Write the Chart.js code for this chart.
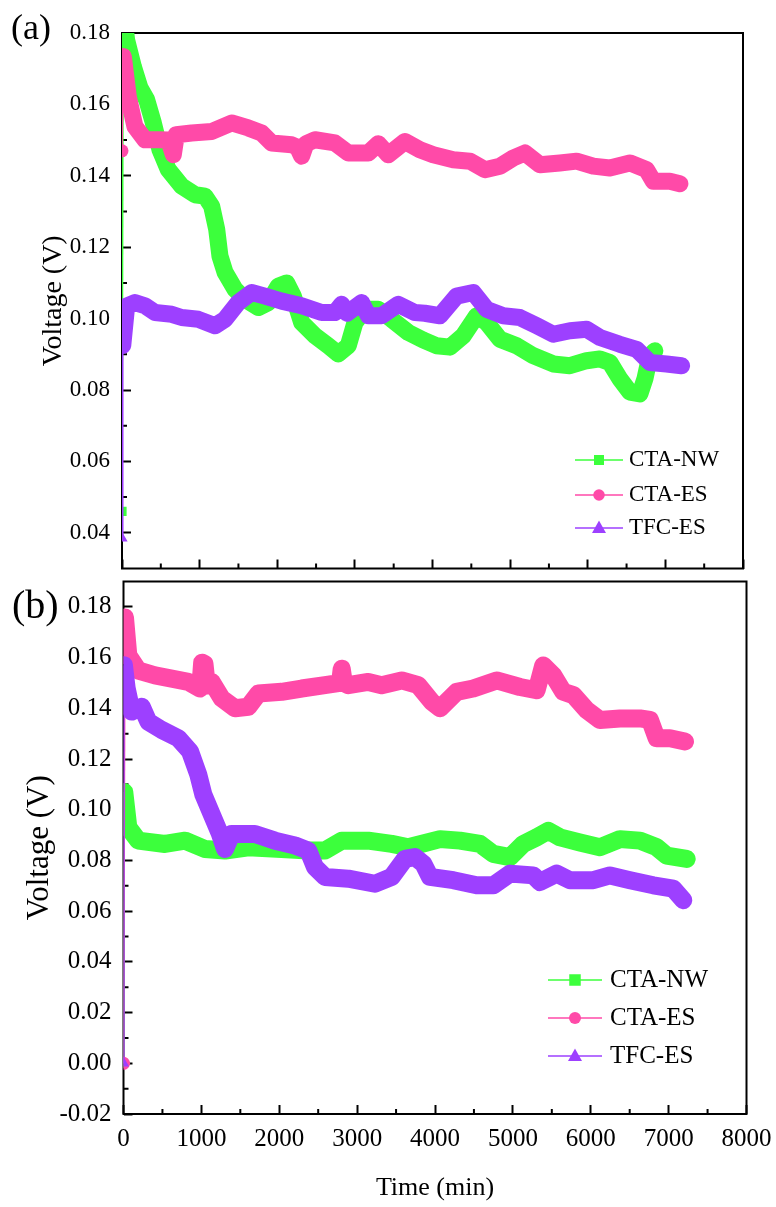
<!DOCTYPE html>
<html>
<head>
<meta charset="utf-8">
<script src="https://cdn.jsdelivr.net/npm/chart.js@4.4.1/dist/chart.umd.min.js"></script>
<style>
  html, body { margin: 0; padding: 0; background: #fff; }
  #wrap { position: relative; width: 776px; height: 1207px; overflow: hidden; }
  canvas { position: absolute; left: 0; }
  #chartA { top: 0; }
  #chartB { top: 575px; }
</style>
</head>
<body>
<div id="wrap">
  <canvas id="chartA" width="776" height="575"></canvas>
  <canvas id="chartB" width="776" height="632"></canvas>
</div>
<script>
// series names
const seriesLabels = ['CTA-NW', 'CTA-ES', 'TFC-ES'];

// panel (a) - time (min) / voltage (V); first value is the starting point
const timeA_NW = [0, 15, 60, 146, 232, 318, 404, 489, 597, 769, 940, 1069, 1155, 1220, 1262, 1327, 1455, 1584, 1756, 1885, 2013, 2121, 2207, 2314, 2486, 2657, 2786, 2915, 3001, 3130, 3301, 3473, 3688, 3880, 4053, 4225, 4396, 4568, 4697, 4869, 5084, 5298, 5556, 5770, 5985, 6157, 6285, 6414, 6543, 6672, 6736, 6801, 6865];
const voltA_NW = [0.046, 0.186, 0.178, 0.1706, 0.1646, 0.1613, 0.1548, 0.1473, 0.1417, 0.1371, 0.1347, 0.1343, 0.1315, 0.125, 0.1175, 0.113, 0.1082, 0.1054, 0.1031, 0.1045, 0.1091, 0.110, 0.1063, 0.0989, 0.0952, 0.0924, 0.0901, 0.0924, 0.0989, 0.1026, 0.1026, 0.0998, 0.0961, 0.094, 0.0924, 0.092, 0.0952, 0.1008, 0.0989, 0.0942, 0.0924, 0.0896, 0.0873, 0.0868, 0.0882, 0.0887, 0.0877, 0.0831, 0.0794, 0.0789, 0.0831, 0.0896, 0.091];

const timeA_ES = [0, 17, 81, 167, 296, 468, 600, 661, 700, 897, 1155, 1413, 1627, 1799, 1928, 2185, 2260, 2314, 2370, 2486, 2743, 2915, 3173, 3301, 3430, 3645, 3838, 4010, 4267, 4482, 4675, 4869, 5040, 5191, 5384, 5641, 5856, 6071, 6285, 6543, 6758, 6844, 7058, 7187];
const voltA_ES = [0.147, 0.1734, 0.1622, 0.1538, 0.1501, 0.1501, 0.150, 0.1459, 0.1515, 0.152, 0.1524, 0.1548, 0.1534, 0.152, 0.1492, 0.1487, 0.148, 0.1455, 0.149, 0.1501, 0.1492, 0.1464, 0.1464, 0.149, 0.1459, 0.1496, 0.1473, 0.1459, 0.1445, 0.1441, 0.1417, 0.1427, 0.145, 0.1464, 0.1431, 0.1436, 0.1441, 0.1427, 0.1422, 0.1436, 0.1417, 0.1385, 0.1385, 0.1378];

const timeA_TFC = [0, 10, 60, 167, 296, 425, 640, 769, 983, 1198, 1327, 1498, 1670, 1842, 2057, 2314, 2572, 2743, 2829, 2900, 3087, 3173, 3344, 3559, 3774, 3900, 4096, 4311, 4525, 4697, 4911, 5126, 5341, 5556, 5770, 5985, 6157, 6414, 6629, 6801, 7015, 7209];
const voltA_TFC = [0.0385, 0.0925, 0.1035, 0.1045, 0.1036, 0.1017, 0.1012, 0.1003, 0.0998, 0.098, 0.0998, 0.1045, 0.1073, 0.1063, 0.1049, 0.1036, 0.1017, 0.1017, 0.104, 0.1015, 0.1045, 0.1008, 0.1008, 0.104, 0.1017, 0.1015, 0.1008, 0.1063, 0.1073, 0.1026, 0.1008, 0.1003, 0.098, 0.0956, 0.0966, 0.097, 0.0947, 0.0928, 0.0914, 0.0877, 0.0873, 0.0868];

// panel (b)
const timeB_NW = [0, 10, 62, 190, 533, 790, 1046, 1303, 1603, 2031, 2373, 2587, 2802, 3143, 3444, 3657, 3860, 4064, 4321, 4578, 4748, 4963, 5134, 5305, 5455, 5605, 5861, 6118, 6375, 6632, 6846, 6975, 7232];
const voltB_NW = [0, 0.107, 0.093, 0.0878, 0.0865, 0.0878, 0.0845, 0.0839, 0.0852, 0.0845, 0.0839, 0.0839, 0.0878, 0.0878, 0.0865, 0.0852, 0.0868, 0.0884, 0.0878, 0.0865, 0.0826, 0.0813, 0.0865, 0.0891, 0.0917, 0.0891, 0.0871, 0.0852, 0.0884, 0.0878, 0.0852, 0.0819, 0.0806];

const timeB_ES = [0, 19, 62, 190, 404, 619, 832, 985, 1010, 1040, 1070, 1132, 1261, 1432, 1603, 1731, 2031, 2288, 2587, 2780, 2802, 2830, 2887, 3143, 3315, 3572, 3785, 3957, 4064, 4278, 4491, 4792, 5091, 5305, 5390, 5519, 5647, 5776, 5947, 6118, 6375, 6632, 6760, 6846, 7017, 7210];
const voltB_ES = [0, 0.1758, 0.1608, 0.1549, 0.153, 0.1517, 0.1504, 0.1478, 0.158, 0.1575, 0.149, 0.1504, 0.1439, 0.14, 0.1406, 0.1458, 0.1465, 0.1478, 0.1491, 0.150, 0.1556, 0.150, 0.1491, 0.1504, 0.1491, 0.151, 0.1491, 0.1426, 0.14, 0.1465, 0.1478, 0.151, 0.1484, 0.1471, 0.1569, 0.153, 0.1465, 0.1452, 0.1393, 0.1354, 0.136, 0.136, 0.1354, 0.1282, 0.1282, 0.1269];

const timeB_TFC = [0, 5, 41, 105, 234, 319, 490, 704, 854, 960, 1025, 1132, 1239, 1303, 1389, 1688, 1945, 2202, 2373, 2459, 2587, 2887, 3229, 3444, 3614, 3743, 3850, 3935, 4235, 4535, 4748, 4963, 5262, 5348, 5562, 5733, 6032, 6247, 6504, 6803, 7059, 7188];
const voltB_TFC = [0, 0.157, 0.1478, 0.1387, 0.1406, 0.1347, 0.1315, 0.1282, 0.123, 0.1139, 0.106, 0.0982, 0.0904, 0.0845, 0.0904, 0.0904, 0.0878, 0.0859, 0.0839, 0.0774, 0.0735, 0.0728, 0.0708, 0.0735, 0.0806, 0.0813, 0.0787, 0.0735, 0.0722, 0.0702, 0.0702, 0.0748, 0.0741, 0.0715, 0.0748, 0.0722, 0.0722, 0.0741, 0.0722, 0.0702, 0.0689, 0.0643];

// ticks
const xTicks = [0, 1000, 2000, 3000, 4000, 5000, 6000, 7000, 8000];
const xMinor = [500, 1500, 2500, 3500, 4500, 5500, 6500, 7500];
const yTicksA = [0.04, 0.06, 0.08, 0.10, 0.12, 0.14, 0.16, 0.18];
const yMinorA = [0.05, 0.07, 0.09, 0.11, 0.13, 0.15, 0.17];
const yTicksB = [-0.02, 0.00, 0.02, 0.04, 0.06, 0.08, 0.10, 0.12, 0.14, 0.16, 0.18];
const yMinorB = [-0.01, 0.01, 0.03, 0.05, 0.07, 0.09, 0.11, 0.13, 0.15, 0.17];

const COLORS = ['#3cff3c', '#ff4aa8', '#9d40ff'];
const MARKERS = ['rect', 'circle', 'triangle'];

Chart.defaults.font.family = "'Liberation Serif', 'Times New Roman', serif";
Chart.defaults.color = '#000';

function drawMarker(ctx, shape, x, y, s) {
    ctx.beginPath();
    if (shape === 'rect') {
        ctx.rect(x - s / 2, y - s / 2, s, s);
    } else if (shape === 'circle') {
        ctx.arc(x, y, s / 2, 0, Math.PI * 2);
    } else {
        const h = s * 0.88;
        ctx.moveTo(x, y - h * 0.6);
        ctx.lineTo(x + s / 2, y + h * 0.4);
        ctx.lineTo(x - s / 2, y + h * 0.4);
        ctx.closePath();
    }
    ctx.fill();
}

// frame, minor ticks, in-plot legend and panel tag
const decorPlugin = {
    id: 'decor',
    beforeDatasetsDraw(chart, args, o) {
        const { ctx, chartArea: a, scales: { x, y } } = chart;
        ctx.save();
        ctx.strokeStyle = '#000';
        ctx.lineWidth = 2;
        ctx.strokeRect(a.left, a.top, a.right - a.left, a.bottom - a.top);
        ctx.beginPath();
        o.yMinor.forEach(v => {
            const py = y.getPixelForValue(v);
            ctx.moveTo(a.left, py);
            ctx.lineTo(a.left + 5, py);
        });
        o.xMinor.forEach(t => {
            const px = x.getPixelForValue(t);
            ctx.moveTo(px, a.bottom);
            ctx.lineTo(px, a.bottom - 5);
        });
        ctx.stroke();
        ctx.restore();
    },
    afterDraw(chart, args, o) {
        const { ctx } = chart;
        const lg = o.legend;
        ctx.save();
        chart.data.datasets.filter(ds => ds.inLegend).forEach((ds, i) => {
            const yy = lg.ys[i];
            ctx.strokeStyle = ds.borderColor;
            ctx.fillStyle = ds.borderColor;
            ctx.lineWidth = 1.5;
            ctx.beginPath();
            ctx.moveTo(lg.x0, yy);
            ctx.lineTo(lg.x1, yy);
            ctx.stroke();
            drawMarker(ctx, MARKERS[i], (lg.x0 + lg.x1) / 2, yy, lg.mark[i]);
            ctx.fillStyle = '#000';
            ctx.font = lg.size + "px 'Liberation Serif', 'Times New Roman', serif";
            ctx.textAlign = 'left';
            ctx.textBaseline = 'middle';
            ctx.fillText(ds.label, lg.tx, yy);
        });
        ctx.font = o.tag.size + "px 'Liberation Serif', 'Times New Roman', serif";
        ctx.textBaseline = 'alphabetic';
        ctx.fillText(o.tag.text, o.tag.x, o.tag.y);
        ctx.restore();
    }
};

function makePanel(canvasId, p) {
    const datasets = [];
    p.series.forEach((s, i) => {
        const pts = s.t.map((t, j) => ({ x: t, y: s.v[j] }));
        // thick band of dense markers
        datasets.push({
            label: seriesLabels[i],
            inLegend: true,
            data: pts.slice(1),
            borderColor: COLORS[i],
            backgroundColor: COLORS[i],
            borderWidth: p.band,
            borderCapStyle: 'round',
            borderJoinStyle: 'round',
            tension: 0,
            clip: 0,
            order: 3 - i,
            pointRadius: 0,
            pointHoverRadius: 0
        });
        // thin connector from the starting point, with its marker
        datasets.push({
            label: seriesLabels[i] + ' start',
            data: pts.slice(0, 2),
            borderColor: COLORS[i],
            backgroundColor: COLORS[i],
            borderWidth: 1.5,
            tension: 0,
            clip: 0,
            order: 3 - i,
            pointStyle: MARKERS[i],
            pointRadius: [6.5, 0],
            pointHoverRadius: 0,
            pointBorderWidth: 0,
            pointBackgroundColor: COLORS[i]
        });
    });

    return new Chart(document.getElementById(canvasId), {
        type: 'line',
        data: { datasets },
        plugins: [decorPlugin],
        options: {
            responsive: false,
            animation: false,
            devicePixelRatio: 1,
            layout: { padding: p.pad },
            plugins: {
                legend: { display: false },
                tooltip: { enabled: false },
                decor: { xMinor, yMinor: p.yMinor, legend: p.legend, tag: p.tag }
            },
            scales: {
                x: {
                    type: 'linear',
                    min: 0,
                    max: 8000,
                    afterBuildTicks: sc => { sc.ticks = xTicks.map(v => ({ value: v })); },
                    afterFit: sc => {
                        sc.height = p.xHeight;
                        sc.paddingLeft = 0; sc.paddingRight = 0;
                    },
                    grid: { drawOnChartArea: false, tickLength: -9, tickWidth: 2, tickColor: '#000' },
                    border: { display: false },
                    ticks: {
                        display: p.xLabels,
                        padding: 19,
                        autoSkip: false,
                        maxRotation: 0,
                        color: '#000',
                        font: { size: p.tickSize },
                        callback: v => String(v)
                    },
                    title: {
                        display: p.xLabels,
                        text: 'Time (min)',
                        color: '#000',
                        font: { size: 26 },
                        padding: { top: 0, bottom: 3.4 }
                    }
                },
                y: {
                    type: 'linear',
                    min: p.yMin,
                    max: p.yMax,
                    afterBuildTicks: sc => { sc.ticks = p.yTicks.map(v => ({ value: v })); },
                    afterFit: sc => {
                        sc.width = p.yWidth;
                        sc.paddingTop = 0; sc.paddingBottom = 0;
                    },
                    grid: { drawOnChartArea: false, tickLength: -9, tickWidth: 2, tickColor: '#000' },
                    border: { display: false },
                    ticks: {
                        padding: 21,
                        autoSkip: false,
                        color: '#000',
                        font: { size: p.tickSize },
                        callback: v => v.toFixed(2)
                    },
                    title: {
                        display: true,
                        text: 'Voltage (V)',
                        color: '#000',
                        font: { size: p.yTitleSize },
                        padding: { top: p.yTitlePad, bottom: 0 }
                    }
                }
            }
        }
    });
}

makePanel('chartA', {
    series: [
        { t: timeA_NW, v: voltA_NW },
        { t: timeA_ES, v: voltA_ES },
        { t: timeA_TFC, v: voltA_TFC }
    ],
    band: 17,
    tickSize: 23,
    xLabels: false,
    xHeight: 5,
    yWidth: 122,
    pad: { top: 33, right: 33, left: 0, bottom: 0 },
    yMin: 0.03,
    yMax: 0.18,
    yTicks: yTicksA,
    yMinor: yMinorA,
    yTitleSize: 28,
    yTitlePad: 36.7,
    legend: { x0: 575, x1: 623, tx: 629, ys: [460, 495, 528], size: 23, mark: [10, 11.5, 14] },
    tag: { text: '(a)', size: 36, x: 11, y: 39 }
});

makePanel('chartB', {
    series: [
        { t: timeB_NW, v: voltB_NW },
        { t: timeB_ES, v: voltB_ES },
        { t: timeB_TFC, v: voltB_TFC }
    ],
    band: 18,
    tickSize: 25,
    xLabels: true,
    xHeight: 93,
    yWidth: 123.5,
    pad: { top: 2, right: 29.5, left: 0, bottom: 0 },
    yMin: -0.02,
    yMax: 0.19,
    yTicks: yTicksB,
    yMinor: yMinorB,
    yTitleSize: 31,
    yTitlePad: 21,
    legend: { x0: 548, x1: 602, tx: 610, ys: [405, 443, 481], size: 25, mark: [11.5, 12, 14] },
    tag: { text: '(b)', size: 40, x: 12, y: 43 }
});
</script>
</body>
</html>
